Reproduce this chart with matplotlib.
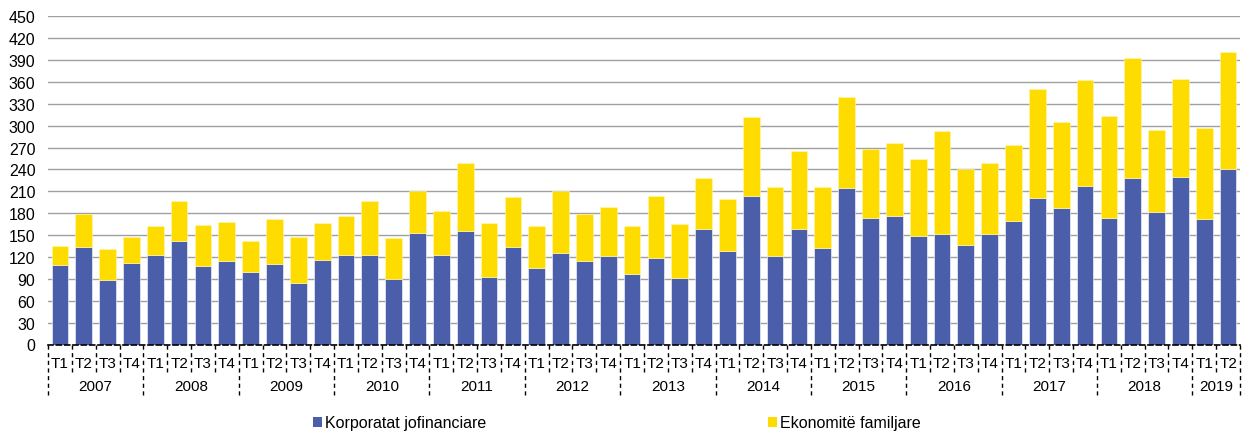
import matplotlib.pyplot as plt
import matplotlib.transforms as mtransforms
from matplotlib.patches import Patch
import numpy as np

plt.rcParams['font.family'] = ['Liberation Sans', 'DejaVu Sans']

# 2007 T1 - 2019 T2
years = ['2007', '2008', '2009', '2010', '2011', '2012', '2013',
         '2014', '2015', '2016', '2017', '2018', '2019']
quarters = ['T1', 'T2', 'T3', 'T4'] * 12 + ['T1', 'T2']

# Korporatat jofinanciare (bottom)
korporatat = [109, 133, 89, 112, 123, 142, 108, 114,
              99, 111, 84, 116, 123, 123, 90, 153,
              123, 156, 93, 134, 105, 125, 114, 121,
              97, 118, 91, 159, 128, 203, 122, 158,
              132, 215, 173, 176, 149, 152, 137, 152,
              170, 201, 187, 217, 174, 228, 181, 230,
              172, 240]
# totals
totale = [135, 179, 131, 148, 162, 197, 164, 168,
          142, 172, 147, 167, 176, 197, 146, 211,
          183, 249, 166, 202, 163, 211, 179, 189,
          163, 203, 165, 228, 199, 312, 216, 265,
          216, 339, 268, 276, 254, 293, 240, 249,
          273, 350, 305, 362, 313, 393, 294, 364,
          297, 401]
ekonomite = [t - k for t, k in zip(totale, korporatat)]

blue = '#4B5EAA'
yellow = '#FFDC00'

fig = plt.figure(figsize=(12.49, 4.35), dpi=100)
ax = fig.add_axes([48 / 1249, 1 - 345.5 / 435, (1240 - 48) / 1249, 328.2 / 435])

x = np.arange(len(quarters))
ax.bar(x, korporatat, width=0.7, color=blue, edgecolor='white', linewidth=0.4, zorder=3)
ax.bar(x, ekonomite, width=0.7, bottom=korporatat, color=yellow,
       edgecolor='#fff7b0', linewidth=0.4, zorder=3)

ax.set_xlim(-0.5, len(quarters) - 0.5)
ax.set_ylim(0, 450)
ax.set_yticks(np.arange(0, 451, 30))
ax.tick_params(axis='y', length=0, pad=9, labelsize=11.5)
ax.yaxis.grid(True, color='#a0a0a0', linewidth=1.0, zorder=0)
ax.set_axisbelow(True)

for s in ['top', 'right', 'left']:
    ax.spines[s].set_visible(False)
ax.spines['bottom'].set_linestyle((0, (3, 2)))
ax.spines['bottom'].set_color('black')
ax.spines['bottom'].set_linewidth(1.2)
ax.spines['bottom'].set_zorder(4)

ax.set_xticks(x)
ax.set_xticklabels(quarters, fontsize=11)
ax.tick_params(axis='x', length=0, pad=8)

# dashed separators under the axis: short between quarters, long between years
trans = mtransforms.blended_transform_factory(ax.transData, ax.transAxes)
h = 328.2
n = len(quarters)
for i in range(n + 1):
    xb = i - 0.5
    is_year = (i % 4 == 0) or (i == n)
    y_end = -(52 / h) if is_year else -(27 / h)
    ax.plot([xb, xb], [0, y_end], transform=trans, color='black',
            linestyle=(0, (3, 2.5)), linewidth=1.0, clip_on=False)

for j, yr in enumerate(years):
    idx = [k for k in range(n) if k // 4 == j]
    ax.text(np.mean(idx), -(42 / h), yr, transform=trans, ha='center',
            va='center', fontsize=11)

handles = [Patch(facecolor=blue, label='Korporatat jofinanciare'),
           Patch(facecolor=yellow, label='Ekonomitë familjare')]
fig.legend(handles=handles, loc='center', bbox_to_anchor=(617 / 1249, 1 - 424 / 435),
           ncol=2, frameon=False, fontsize=11.5, handlelength=0.55, handleheight=0.55,
           handletextpad=0.2, columnspacing=17.6)

fig.savefig('out.png', dpi=100)
